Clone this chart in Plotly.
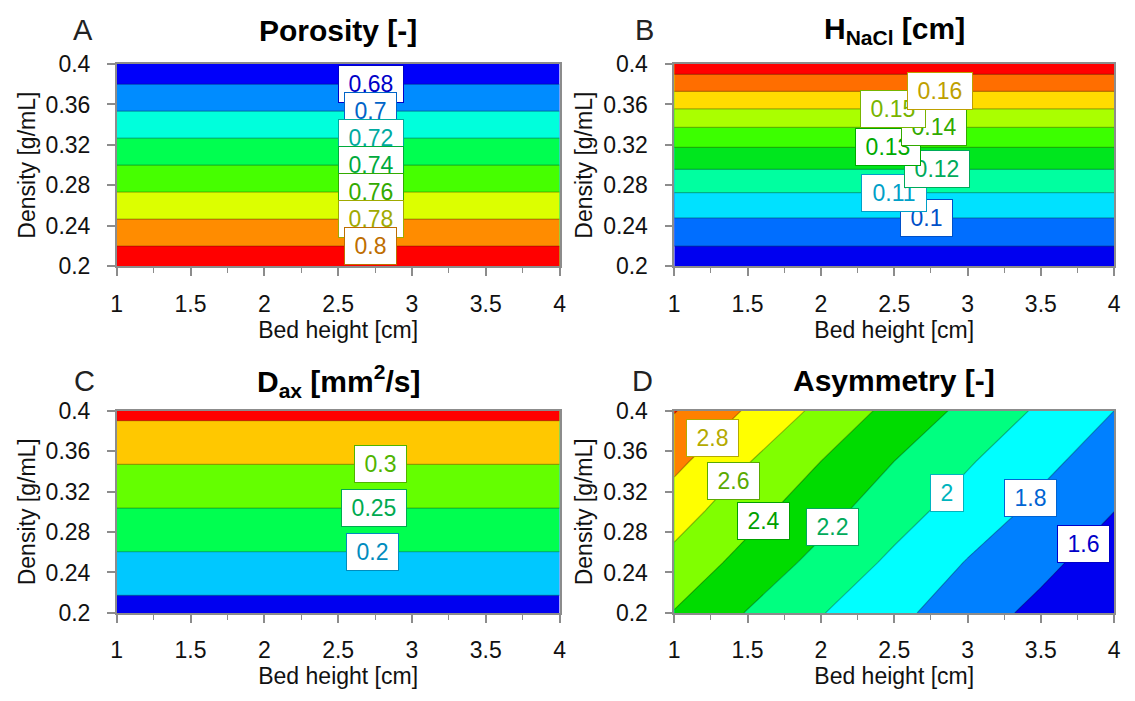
import numpy as np
import plotly.graph_objects as go

# ---------------- data ----------------
# Panel A: porosity versus density (independent of bed height)
bed_height = [1.0, 4.0]
density_a = [0.2, 0.4]
porosity = [0.815, 0.665]

# Panel B: H_NaCl versus density
density_b = [0.2, 0.225, 0.25, 0.275, 0.3, 0.325, 0.35, 0.375, 0.4]
h_nacl = [0.083, 0.0918, 0.1008, 0.1109, 0.1218, 0.1335, 0.1467, 0.1612, 0.176]

# Panel C: axial dispersion versus density
density_c = [0.2, 0.4]
d_ax = [0.130, 0.3615]

# Panel D: asymmetry over bed height x density
bed_height_d = [1.0, 1.5, 2.0, 2.5, 3.0, 3.5, 4.0]
density_d = [0.2, 0.25, 0.3, 0.35, 0.4]
asymmetry = [
    [2.39, 2.19, 2.01, 1.85, 1.69, 1.55, 1.42],
    [2.54, 2.33, 2.14, 1.96, 1.79, 1.65, 1.50],
    [2.69, 2.47, 2.27, 2.08, 1.91, 1.75, 1.60],
    [2.85, 2.61, 2.40, 2.20, 2.02, 1.85, 1.70],
    [3.01, 2.78, 2.55, 2.34, 2.15, 1.97, 1.80],
]

x_ticks = [1, 1.5, 2, 2.5, 3, 3.5, 4]
y_ticks = [0.2, 0.24, 0.28, 0.32, 0.36, 0.4]

# ---------------- styling ----------------
W, H = 1135, 701
FONT = "Liberation Sans, Arial, sans-serif"
AXIS_GREY = "#8c8c8c"


def xdom(left, right):
    return [left / W, right / W]


def ydom(top, bottom):
    return [1 - bottom / H, 1 - top / H]


def grid_from_profile(xs, profile):
    """Repeat a density profile across bed height."""
    return [[v] * len(xs) for v in profile]


def level_y(level, x, xs, ys, zgrid):
    """Density at which the surface reaches `level` at bed height x."""
    col = np.array([np.interp(x, xs, row) for row in zgrid])
    ys = np.array(ys)
    if col[0] > col[-1]:
        col, ys = col[::-1], ys[::-1]
    return float(np.interp(level, col, ys))


def fmt_level(v):
    return f"{v:g}"


def text_width(s, size):
    w = 0.0
    for ch in s:
        w += 0.278 if ch == "." else 0.556
    return w * size


panels = [
    dict(
        key="A", title="<b>Porosity [-]</b>",
        xs=bed_height, ys=density_a, z=grid_from_profile(bed_height, porosity),
        start=0.68, end=0.80, size=0.02,
        colors=["#0000fa", "#008cff", "#00ffdc", "#00ff50", "#46ff00",
                "#dcff00", "#ff8c00", "#ff0000"],
        labels=[(0.68, 2.72, "#0000c8"), (0.70, 2.72, "#0064c8"),
                (0.72, 2.72, "#00aaa0"), (0.74, 2.72, "#00aa3c"),
                (0.76, 2.72, "#32aa00"), (0.78, 2.72, "#a0aa00"),
                (0.80, 2.72, "#be6e00")],
        xd=xdom(112, 560), yd=ydom(53, 263), letter_xy=(78, 18),
    ),
    dict(
        key="B", title="<b>H<sub>NaCl</sub> [cm]</b>",
        xs=bed_height, ys=density_b, z=grid_from_profile(bed_height, h_nacl),
        start=0.09, end=0.17, size=0.01,
        colors=["#0000f0", "#006eff", "#00e1ff", "#00ffa0", "#00e61e",
                "#3cff00", "#aaff00", "#ffdc00", "#ff6e00", "#ff0000"],
        labels=[(0.10, 2.72, "#0050c8"), (0.11, 2.50, "#00a0c8"),
                (0.12, 2.79, "#00aa5a"), (0.13, 2.46, "#00aa00"),
                (0.14, 2.77, "#32aa00"), (0.15, 2.49, "#78b400"),
                (0.16, 2.81, "#bea000")],
        xd=xdom(676, 1121), yd=ydom(53, 263), letter_xy=(646, 18),
    ),
    dict(
        key="C", title="<b>D<sub>ax</sub> [mm<sup>2</sup>/s]</b>",
        xs=bed_height, ys=density_c, z=grid_from_profile(bed_height, d_ax),
        start=0.15, end=0.35, size=0.05,
        colors=["#0000f0", "#00c8ff", "#00ff50", "#64ff00", "#ffc800",
                "#ff0000"],
        labels=[(0.20, 2.73, "#008cbe"), (0.25, 2.74, "#00aa50"),
                (0.30, 2.79, "#50b400")],
        xd=xdom(112, 560), yd=ydom(413, 623), letter_xy=(79, 382),
    ),
    dict(
        key="D", title="<b>Asymmetry [-]</b>",
        xs=bed_height_d, ys=density_d, z=asymmetry,
        start=1.6, end=3.0, size=0.2,
        colors=["#0000f0", "#0080ff", "#00ffff", "#00ff80", "#00dc00",
                "#80ff00", "#ffff00", "#ff8000", "#ff0000"],
        labels=[(1.6, 3.79, "#0000c8"), (1.8, 3.43, "#0064d2"),
                (2.0, 2.86, "#00b4be"), (2.2, 2.08, "#00aa5a"),
                (2.4, 1.61, "#00a000"), (2.6, 1.405, "#5aaa00"),
                (2.8, 1.26, "#b4aa00")],
        xd=xdom(676, 1121), yd=ydom(413, 623), letter_xy=(644, 382),
    ),
]

fig = go.Figure()
annotations = []
layout_axes = {}

LABEL_FONT = 23
TICK_FONT = 23
for i, p in enumerate(panels, start=1):
    sfx = "" if i == 1 else str(i)
    xref, yref = f"x{sfx}", f"y{sfx}"
    n = len(p["colors"])
    cscale = [[k / (n - 1), c] for k, c in enumerate(p["colors"])]
    fig.add_trace(go.Contour(
        x=p["xs"], y=p["ys"], z=p["z"],
        autocontour=False,
        contours=dict(start=p["start"], end=p["end"], size=p["size"],
                      coloring="fill", showlines=True),
        line=dict(color="rgba(0,0,0,0.28)", width=1.2, smoothing=0),
        colorscale=cscale, showscale=False, hoverinfo="skip",
        xaxis=xref, yaxis=yref,
    ))

    common = dict(showline=True, linecolor=AXIS_GREY, linewidth=1.5,
                  mirror=True, ticks="outside", ticklen=8, tickwidth=1.5,
                  tickcolor=AXIS_GREY, showgrid=False, zeroline=False,
                  tickfont=dict(family=FONT, size=TICK_FONT, color="#111111"))
    layout_axes[f"xaxis{sfx}"] = dict(
        common, domain=p["xd"], anchor=yref, range=[1, 4],
        tickvals=x_ticks, ticklabelstandoff=8,
        minor=dict(dtick=0.25, tick0=1, ticks="outside", ticklen=5,
                   tickwidth=1.2, tickcolor=AXIS_GREY),
        title=dict(text="Bed height [cm]", standoff=6,
                   font=dict(family=FONT, size=TICK_FONT, color="#111111")),
    )
    layout_axes[f"yaxis{sfx}"] = dict(
        common, domain=p["yd"], anchor=xref, range=[0.2, 0.4],
        tickvals=y_ticks, ticklabelstandoff=12,
        title=dict(text="Density [g/mL]", standoff=4,
                   font=dict(family=FONT, size=TICK_FONT, color="#111111")),
    )

    # panel title and letter
    plot_cx = (p["xd"][0] + p["xd"][1]) / 2
    ly = p["letter_xy"][1]
    annotations.append(dict(
        text=p["title"], xref="paper", yref="paper", x=plot_cx, y=1 - ly / H,
        xanchor="center", yanchor="middle", showarrow=False,
        font=dict(family=FONT, size=30, color="#000000"),
    ))
    annotations.append(dict(
        text=p["key"], xref="paper", yref="paper",
        x=p["letter_xy"][0] / W, y=1 - ly / H,
        xanchor="center", yanchor="middle", showarrow=False,
        font=dict(family=FONT, size=29, color="#222222"),
    ))

    # contour level labels in white boxes
    for level, lx, col in p["labels"]:
        txt = fmt_level(level)
        ly_data = level_y(level, lx, p["xs"], p["ys"], p["z"])
        annotations.append(dict(
            text=txt, xref=xref, yref=yref, x=lx, y=ly_data,
            xanchor="center", yanchor="middle", showarrow=False,
            font=dict(family=FONT, size=LABEL_FONT, color=col),
            bgcolor="white", bordercolor=col, borderwidth=1, borderpad=4,
            width=round(text_width(txt, LABEL_FONT)) + 11, height=28,
        ))

fig.update_layout(
    width=W, height=H,
    margin=dict(l=0, r=0, t=0, b=0),
    paper_bgcolor="white", plot_bgcolor="white",
    font=dict(family=FONT, color="#111111"),
    showlegend=False,
    annotations=annotations,
    **layout_axes,
)

fig.write_html("out.html")
